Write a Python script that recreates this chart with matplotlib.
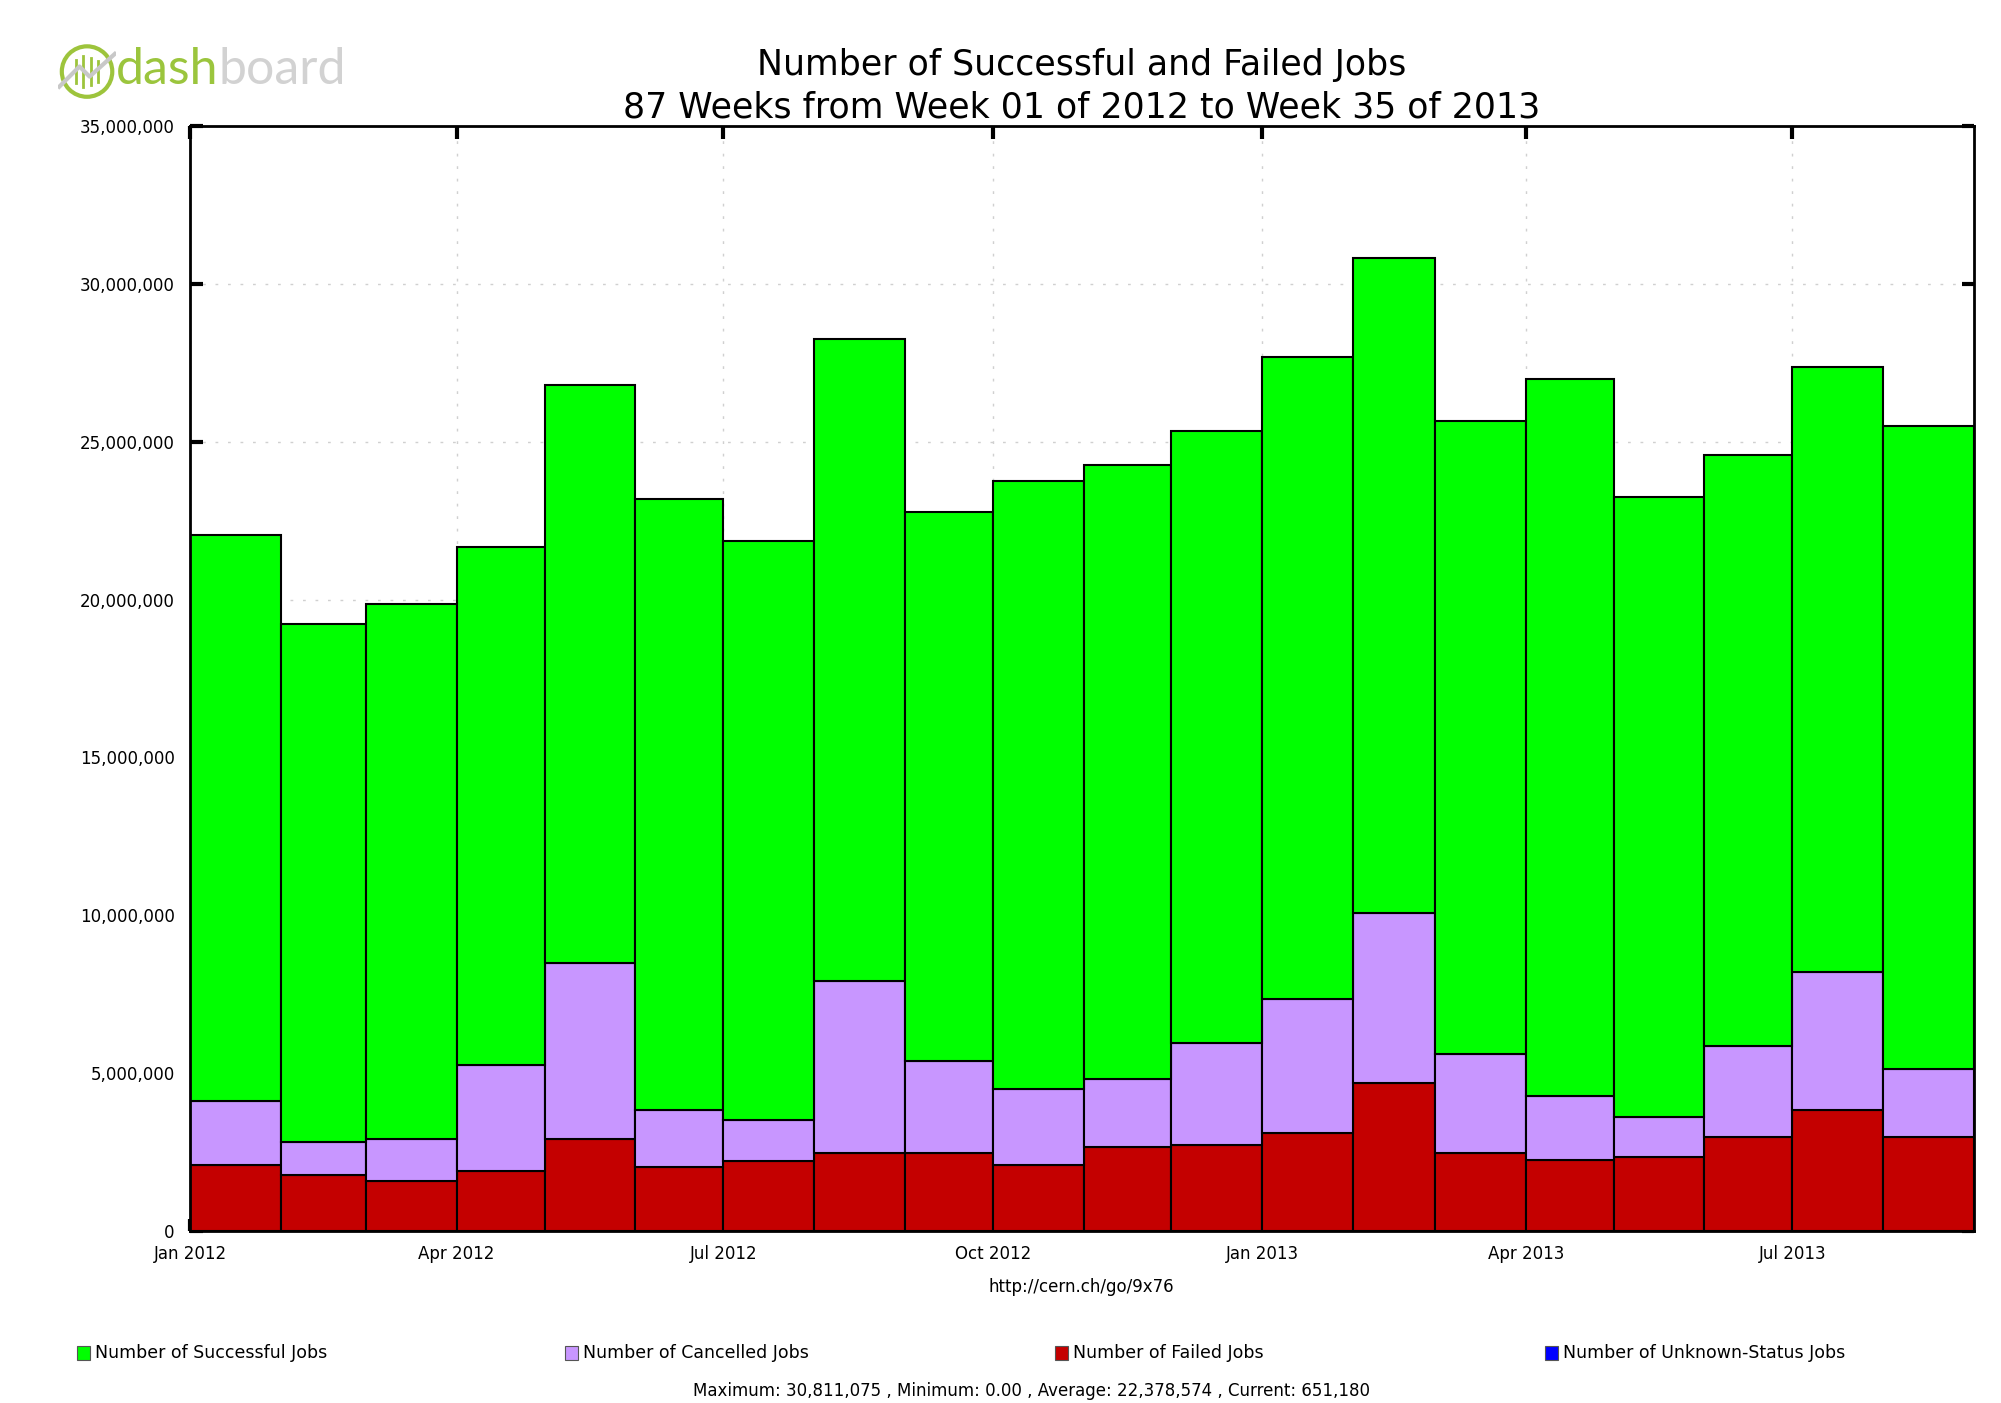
import numpy as np
import pandas as pd
import matplotlib
matplotlib.use('Agg')
import matplotlib.pyplot as plt
import matplotlib.dates as mdates
from matplotlib.patches import Rectangle, Circle
from matplotlib.ticker import FuncFormatter, MultipleLocator

# monthly bins, 87 weeks (jan 2012 -> aug 2013)
months = pd.date_range('2012-01-01', periods=20, freq='MS')

# values in millions of jobs
failed = [2.10, 1.78, 1.58, 1.90, 2.91, 2.02, 2.22, 2.47, 2.47, 2.10,
          2.67, 2.71, 3.11, 4.69, 2.47, 2.26, 2.34, 2.99, 3.84, 2.99]
cancelled = [2.02, 1.05, 1.33, 3.35, 5.58, 1.82, 1.30, 5.45, 2.91, 2.39,
             2.14, 3.23, 4.25, 5.37, 3.15, 2.02, 1.26, 2.87, 4.37, 2.14]
successful = [17.91, 16.41, 16.94, 16.42, 18.31, 19.36, 18.35, 20.33, 17.38, 19.28,
              19.44, 19.40, 20.33, 20.75, 20.05, 22.72, 19.64, 18.72, 19.15, 20.38]
unknown = [0.0] * 20

labels = ['Number of Successful Jobs', 'Number of Cancelled Jobs',
          'Number of Failed Jobs', 'Number of Unknown-Status Jobs']
colors = ['#00ff00', '#c896ff', '#c40000', '#0000ff']

stats = 'Maximum: 30,811,075 , Minimum: 0.00 , Average: 22,378,574 , Current: 651,180'

f = np.array(failed) * 1e6
c = np.array(cancelled) * 1e6
s = np.array(successful) * 1e6
u = np.array(unknown) * 1e6

edges = pd.date_range('2012-01-01', periods=21, freq='MS')
x0 = mdates.date2num(edges[:-1].to_pydatetime())
w = np.diff(mdates.date2num(edges.to_pydatetime()))

plt.rcParams['font.family'] = ['DejaVu Sans']

fig = plt.figure(figsize=(20.01, 14.03), dpi=100)
ax = fig.add_axes([0.095, 0.1226, 0.8915, 0.7876])

ax.bar(x0, f, width=w, align='edge', color=colors[2], edgecolor='black', linewidth=1.5, zorder=2)
ax.bar(x0, c, width=w, bottom=f, align='edge', color=colors[1], edgecolor='black', linewidth=1.5, zorder=2)
ax.bar(x0, s, width=w, bottom=f + c, align='edge', color=colors[0], edgecolor='black', linewidth=1.5, zorder=2)
ax.bar(x0, u, width=w, bottom=f + c + s, align='edge', color=colors[3], linewidth=0, zorder=2)

ax.set_xlim(mdates.date2num(edges[0]), mdates.date2num(edges[-1]))
ax.set_ylim(0, 35e6)
ax.xaxis.set_major_locator(mdates.MonthLocator(bymonth=[1, 4, 7, 10]))
ax.xaxis.set_major_formatter(mdates.DateFormatter('%b %Y'))
ax.yaxis.set_major_locator(MultipleLocator(5e6))
ax.yaxis.set_major_formatter(FuncFormatter(lambda v, p: '{:,.0f}'.format(v)))

ax.grid(True, linestyle=(0, (2, 7)), color='#d0d0d0', linewidth=1)
ax.set_axisbelow(True)
ax.tick_params(direction='in', length=9, width=3, top=True, right=True, labelsize=12, color='black')
ax.tick_params(axis='x', pad=10)
ax.tick_params(axis='y', pad=11)
for sp in ax.spines.values():
    sp.set_linewidth(2)
    sp.set_zorder(3)

# titles
fig.text(0.5407, 0.9535, 'Number of Successful and Failed Jobs', ha='center', va='center', fontsize=25)
fig.text(0.5407, 0.9237, '87 Weeks from Week 01 of 2012 to Week 35 of 2013', ha='center', va='center', fontsize=25)

# logo
lax = fig.add_axes([0.029, 0.928, 0.029, 0.042])
lax.set_aspect('equal')
lax.add_patch(Circle((0, 0), 1, fill=False, lw=3, color='#9dc43c'))
for xb, hb in zip([-0.45, -0.15, 0.15, 0.45], [0.9, 1.2, 1.1, 0.8]):
    lax.plot([xb, xb], [-hb / 2, hb / 2], color='#9dc43c', lw=2)
lax.plot([-1.1, -0.3, 0.1, 1.1], [-0.6, 0.2, -0.2, 0.7], color='#c8c8c8', lw=3)
lax.set_xlim(-1.15, 1.15)
lax.set_ylim(-1.15, 1.15)
lax.axis('off')
t1 = fig.text(0.058, 0.950, 'dash', color='#9bc53d', fontsize=36, va='center', ha='left', family='Lato')
fig.canvas.draw()
bb = t1.get_window_extent().transformed(fig.transFigure.inverted())
fig.text(bb.x1, 0.950, 'board', color='#d2d2d2', fontsize=36, va='center', ha='left', family='Lato')

# footer
fig.text(0.5405, 0.0827, 'http://cern.ch/go/9x76', ha='center', va='center', fontsize=12)
legx = [0.0385, 0.2825, 0.527, 0.772]
for xx, lab, col in zip(legx, labels, colors):
    fig.patches.append(Rectangle((xx, 0.031), 0.0065, 0.0093, transform=fig.transFigure,
                                 facecolor=col, edgecolor='#555555', lw=0.8))
    fig.text(xx + 0.009, 0.0357, lab, ha='left', va='center', fontsize=12.5)
fig.text(0.3465, 0.002, stats, ha='left', va='bottom', fontsize=12)

fig.savefig('out.png', dpi=100)
